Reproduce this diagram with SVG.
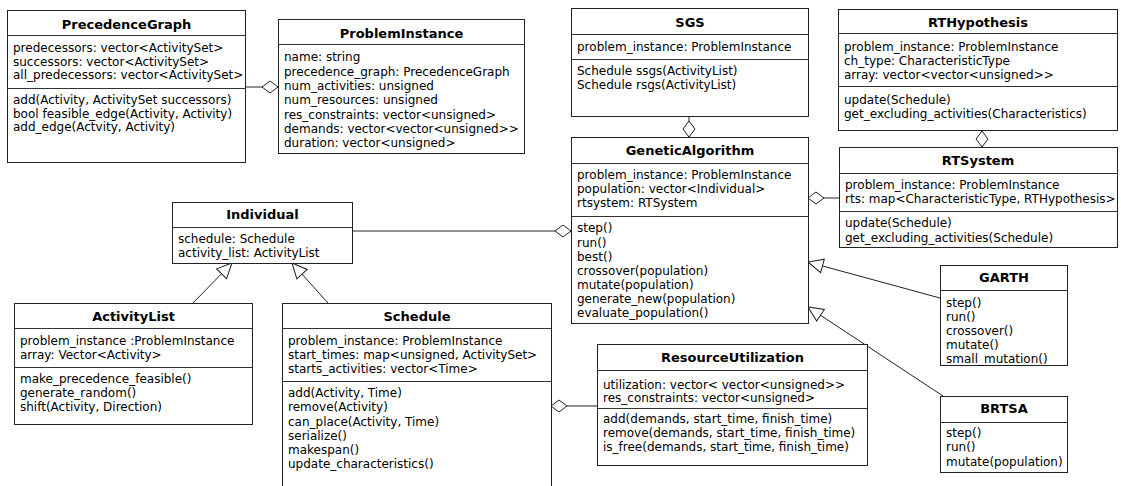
<svg xmlns="http://www.w3.org/2000/svg" width="1121" height="486" viewBox="0 0 1121 486">
<style>
.box rect{fill:#fff;stroke:#222;stroke-width:1}
.box line{stroke:#333;stroke-width:1}
.t{font-family:"DejaVu Sans",sans-serif;font-size:13px;font-weight:bold;text-anchor:middle;fill:#000}
.m{font-family:"DejaVu Sans",sans-serif;font-size:12px;fill:#000}
.c path{fill:none;stroke:#222;stroke-width:1}
</style>
<defs>
<marker id="dia" markerUnits="userSpaceOnUse" markerWidth="18" markerHeight="14" viewBox="0 0 18 14" refX="17" refY="7" orient="auto">
<path d="M1,7 L9,1 L17,7 L9,13 Z" fill="#fff" stroke="#222" stroke-width="1"/>
</marker>
<marker id="tri" markerUnits="userSpaceOnUse" markerWidth="18" markerHeight="18" viewBox="0 0 18 18" refX="16" refY="9" orient="auto">
<path d="M16,9 L1,2 L1,16 Z" fill="#fff" stroke="#222" stroke-width="1"/>
</marker>
</defs>
<rect width="1121" height="486" fill="#fff"/>

<g class="c" id="connectors">
<path d="M245.5,87 L278,87" marker-end="url(#dia)"/>
<path d="M689,116 L689,137" marker-end="url(#dia)"/>
<path d="M982,130 L982,147" marker-end="url(#dia)"/>
<path d="M352,231 L571,231" marker-end="url(#dia)"/>
<path d="M839,198 L808,198" marker-end="url(#dia)"/>
<path d="M597,406 L551,406" marker-end="url(#dia)"/>
<path d="M193,303 L232,263" marker-end="url(#tri)"/>
<path d="M328,303 L292,263" marker-end="url(#tri)"/>
<path d="M940,298 L808,262" marker-end="url(#tri)"/>
<path d="M943,396 L808,307" marker-end="url(#tri)"/>
</g>

<g class="box" id="PrecedenceGraph">
<rect x="7.5" y="10.5" width="238" height="152"/>
<line x1="7.5" y1="35.5" x2="245.5" y2="35.5"/>
<line x1="7.5" y1="88.5" x2="245.5" y2="88.5"/>
<text class="t" x="126.5" y="29">PrecedenceGraph</text>
<text class="m" x="13" y="52">predecessors: vector&lt;ActivitySet&gt;</text>
<text class="m" x="13" y="65.5">successors: vector&lt;ActivitySet&gt;</text>
<text class="m" x="13" y="79">all_predecessors: vector&lt;ActivitySet&gt;</text>
<text class="m" x="13" y="104">add(Activity, ActivitySet successors)</text>
<text class="m" x="13" y="117.5">bool feasible_edge(Activity, Activity)</text>
<text class="m" x="13" y="131">add_edge(Actvity, Activity)</text>
</g>

<g class="box" id="ProblemInstance">
<rect x="278.5" y="19.5" width="246" height="134"/>
<line x1="278.5" y1="44.5" x2="524.5" y2="44.5"/>
<text class="t" x="401.5" y="38">ProblemInstance</text>
<text class="m" x="284" y="61">name: string</text>
<text class="m" x="284" y="75.5">precedence_graph: PrecedenceGraph</text>
<text class="m" x="284" y="90">num_activities: unsigned</text>
<text class="m" x="284" y="104">num_resources: unsigned</text>
<text class="m" x="284" y="118.5">res_constraints: vector&lt;unsigned&gt;</text>
<text class="m" x="284" y="132.5">demands: vector&lt;vector&lt;unsigned&gt;&gt;</text>
<text class="m" x="284" y="147">duration: vector&lt;unsigned&gt;</text>
</g>

<g class="box" id="SGS">
<rect x="571.5" y="8.5" width="237" height="108"/>
<line x1="571.5" y1="34.5" x2="808.5" y2="34.5"/>
<line x1="571.5" y1="59.5" x2="808.5" y2="59.5"/>
<text class="t" x="690" y="27">SGS</text>
<text class="m" x="577" y="51">problem_instance: ProblemInstance</text>
<text class="m" x="577" y="75">Schedule ssgs(ActivityList)</text>
<text class="m" x="577" y="89">Schedule rsgs(ActivityList)</text>
</g>

<g class="box" id="RTHypothesis">
<rect x="838.5" y="9.5" width="279" height="121"/>
<line x1="838.5" y1="33.5" x2="1117.5" y2="33.5"/>
<line x1="838.5" y1="86.5" x2="1117.5" y2="86.5"/>
<text class="t" x="978" y="27">RTHypothesis</text>
<text class="m" x="844" y="51">problem_instance: ProblemInstance</text>
<text class="m" x="844" y="65">ch_type: CharacteristicType</text>
<text class="m" x="844" y="79">array: vector&lt;vector&lt;unsigned&gt;&gt;</text>
<text class="m" x="844" y="104">update(Schedule)</text>
<text class="m" x="844" y="118">get_excluding_activities(Characteristics)</text>
</g>

<g class="box" id="GeneticAlgorithm">
<rect x="571.5" y="137.5" width="237" height="186"/>
<line x1="571.5" y1="163.5" x2="808.5" y2="163.5"/>
<line x1="571.5" y1="216.5" x2="808.5" y2="216.5"/>
<text class="t" x="690" y="155">GeneticAlgorithm</text>
<text class="m" x="577" y="179">problem_instance: ProblemInstance</text>
<text class="m" x="577" y="193">population: vector&lt;Individual&gt;</text>
<text class="m" x="577" y="207">rtsystem: RTSystem</text>
<text class="m" x="577" y="232">step()</text>
<text class="m" x="577" y="246.5">run()</text>
<text class="m" x="577" y="260.5">best()</text>
<text class="m" x="577" y="274.5">crossover(population)</text>
<text class="m" x="577" y="288.5">mutate(population)</text>
<text class="m" x="577" y="302.5">generate_new(population)</text>
<text class="m" x="577" y="317">evaluate_population()</text>
</g>

<g class="box" id="RTSystem">
<rect x="839.5" y="147.5" width="278" height="100"/>
<line x1="839.5" y1="173.5" x2="1117.5" y2="173.5"/>
<line x1="839.5" y1="211.5" x2="1117.5" y2="211.5"/>
<text class="t" x="978" y="165">RTSystem</text>
<text class="m" x="845" y="189">problem_instance: ProblemInstance</text>
<text class="m" x="845" y="203">rts: map&lt;CharacteristicType, RTHypothesis&gt;</text>
<text class="m" x="845" y="227">update(Schedule)</text>
<text class="m" x="845" y="242">get_excluding_activities(Schedule)</text>
</g>

<g class="box" id="Individual">
<rect x="172.5" y="202.5" width="180" height="61"/>
<line x1="172.5" y1="227.5" x2="352.5" y2="227.5"/>
<text class="t" x="262.5" y="219">Individual</text>
<text class="m" x="178" y="243">schedule: Schedule</text>
<text class="m" x="178" y="257">activity_list: ActivityList</text>
</g>

<g class="box" id="ActivityList">
<rect x="14.5" y="303.5" width="238" height="121"/>
<line x1="14.5" y1="328.5" x2="252.5" y2="328.5"/>
<line x1="14.5" y1="367.5" x2="252.5" y2="367.5"/>
<text class="t" x="133.5" y="321">ActivityList</text>
<text class="m" x="20" y="345">problem_instance :ProblemInstance</text>
<text class="m" x="20" y="359">array: Vector&lt;Activity&gt;</text>
<text class="m" x="20" y="383">make_precedence_feasible()</text>
<text class="m" x="20" y="397">generate_random()</text>
<text class="m" x="20" y="411">shift(Activity, Direction)</text>
</g>

<g class="box" id="Schedule">
<rect x="282.5" y="303.5" width="269" height="200"/>
<line x1="282.5" y1="328.5" x2="551.5" y2="328.5"/>
<line x1="282.5" y1="381.5" x2="551.5" y2="381.5"/>
<text class="t" x="417" y="321">Schedule</text>
<text class="m" x="288" y="345">problem_instance: ProblemInstance</text>
<text class="m" x="288" y="359">start_times: map&lt;unsigned, ActivitySet&gt;</text>
<text class="m" x="288" y="373">starts_activities: vector&lt;Time&gt;</text>
<text class="m" x="288" y="397">add(Activity, Time)</text>
<text class="m" x="288" y="411">remove(Activity)</text>
<text class="m" x="288" y="426">can_place(Activity, Time)</text>
<text class="m" x="288" y="440">serialize()</text>
<text class="m" x="288" y="454">makespan()</text>
<text class="m" x="288" y="468">update_characteristics()</text>
</g>

<g class="box" id="ResourceUtilization">
<rect x="597.5" y="344.5" width="270" height="121"/>
<line x1="597.5" y1="370.5" x2="867.5" y2="370.5"/>
<line x1="597.5" y1="408.5" x2="867.5" y2="408.5"/>
<text class="t" x="732.5" y="362">ResourceUtilization</text>
<text class="m" x="603" y="389">utilization: vector&lt; vector&lt;unsigned&gt;&gt;</text>
<text class="m" x="603" y="402">res_constraints: vector&lt;unsigned&gt;</text>
<text class="m" x="603" y="423">add(demands, start_time, finish_time)</text>
<text class="m" x="603" y="437">remove(demands, start_time, finish_time)</text>
<text class="m" x="603" y="451">is_free(demands, start_time, finish_time)</text>
</g>

<g class="box" id="GARTH">
<rect x="940.5" y="265.5" width="127" height="100"/>
<line x1="940.5" y1="290.5" x2="1067.5" y2="290.5"/>
<text class="t" x="1004" y="282">GARTH</text>
<text class="m" x="946" y="307">step()</text>
<text class="m" x="946" y="321">run()</text>
<text class="m" x="946" y="334.5">crossover()</text>
<text class="m" x="946" y="348.5">mutate()</text>
<text class="m" x="946" y="362.5">small_mutation()</text>
</g>

<g class="box" id="BRTSA">
<rect x="940.5" y="396.5" width="127" height="76"/>
<line x1="940.5" y1="422.5" x2="1067.5" y2="422.5"/>
<text class="t" x="1004" y="413">BRTSA</text>
<text class="m" x="946" y="437">step()</text>
<text class="m" x="946" y="451">run()</text>
<text class="m" x="946" y="466">mutate(population)</text>
</g>
</svg>
